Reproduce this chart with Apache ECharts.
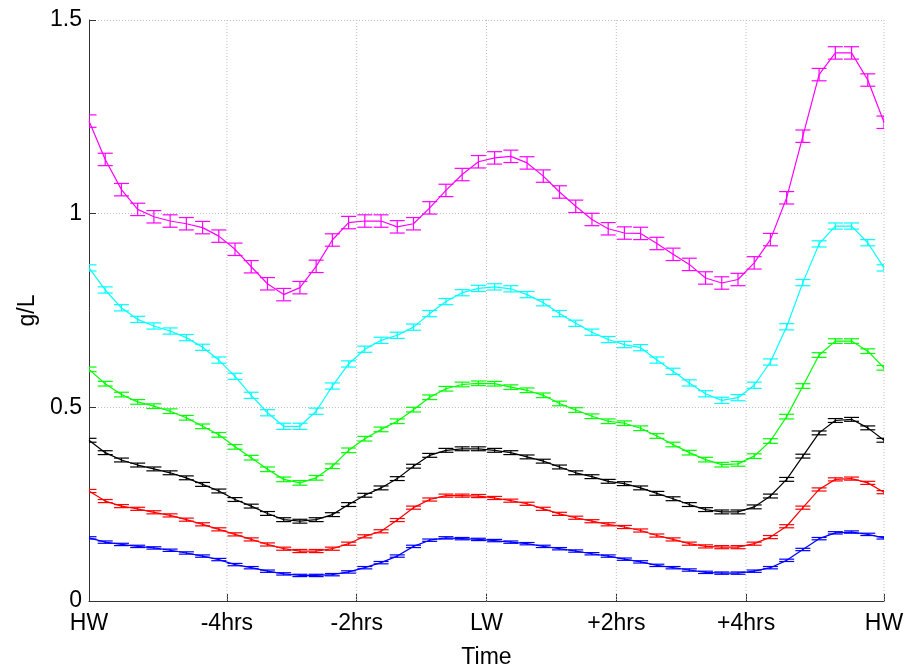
<!DOCTYPE html>
<html>
<head>
<meta charset="utf-8">
<title>Concentration over tidal cycle</title>
<script src="https://cdn.jsdelivr.net/npm/echarts@6/dist/echarts.min.js"></script>
<style>
  html, body { margin: 0; padding: 0; background: #ffffff; }
  #chart { width: 911px; height: 670px; }
</style>
</head>
<body>
<div id="chart"></div>
<script>
// Sampling: every 15 minutes over one tidal cycle, HW to HW (hours relative to LW)
const START_HOURS = -6.125;
const STEP_HOURS = 0.25;
const N_SAMPLES = 50;

// Tick positions (hours) and their labels
const tickHours = [-6.125, -4, -2, 0, 2, 4, 6.125];
const tickLabels = ['HW', '-4hrs', '-2hrs', 'LW', '+2hrs', '+4hrs', 'HW'];

// Mean concentration (g/L) per profile, one value per 15-minute sample
const magentaValues = [1.239, 1.140, 1.062, 1.011, 0.992, 0.981, 0.974, 0.964, 0.942, 0.908,
  0.863, 0.819, 0.791, 0.809, 0.864, 0.932, 0.977, 0.981, 0.981, 0.966,
  0.974, 1.015, 1.060, 1.101, 1.134, 1.144, 1.148, 1.131, 1.097, 1.056,
  1.019, 0.985, 0.961, 0.950, 0.949, 0.923, 0.895, 0.869, 0.834, 0.821,
  0.830, 0.873, 0.933, 1.041, 1.200, 1.359, 1.415, 1.415, 1.345, 1.236];
const cyanValues = [0.860, 0.803, 0.757, 0.727, 0.710, 0.697, 0.680, 0.655, 0.622, 0.580,
  0.531, 0.486, 0.451, 0.451, 0.490, 0.555, 0.612, 0.650, 0.673, 0.686,
  0.707, 0.742, 0.773, 0.796, 0.807, 0.811, 0.806, 0.791, 0.770, 0.742,
  0.717, 0.694, 0.675, 0.662, 0.654, 0.622, 0.593, 0.563, 0.535, 0.518,
  0.525, 0.557, 0.617, 0.708, 0.822, 0.922, 0.968, 0.968, 0.925, 0.860];
const greenValues = [0.598, 0.561, 0.533, 0.514, 0.503, 0.490, 0.473, 0.451, 0.429, 0.398,
  0.370, 0.340, 0.314, 0.305, 0.318, 0.348, 0.389, 0.419, 0.443, 0.464,
  0.494, 0.526, 0.548, 0.559, 0.562, 0.561, 0.552, 0.544, 0.531, 0.510,
  0.493, 0.477, 0.464, 0.459, 0.446, 0.426, 0.404, 0.383, 0.365, 0.352,
  0.354, 0.374, 0.413, 0.476, 0.555, 0.635, 0.671, 0.671, 0.645, 0.602];
const blackValues = [0.415, 0.383, 0.364, 0.351, 0.341, 0.331, 0.318, 0.301, 0.284, 0.262,
  0.245, 0.226, 0.210, 0.206, 0.210, 0.223, 0.249, 0.273, 0.292, 0.316,
  0.348, 0.376, 0.389, 0.393, 0.393, 0.389, 0.383, 0.372, 0.361, 0.346,
  0.331, 0.321, 0.309, 0.303, 0.292, 0.278, 0.264, 0.249, 0.236, 0.230,
  0.230, 0.243, 0.271, 0.314, 0.374, 0.434, 0.466, 0.469, 0.447, 0.415];
const redValues = [0.284, 0.258, 0.245, 0.238, 0.229, 0.221, 0.210, 0.198, 0.185, 0.172,
  0.159, 0.146, 0.135, 0.129, 0.129, 0.135, 0.148, 0.167, 0.180, 0.209,
  0.241, 0.262, 0.272, 0.272, 0.271, 0.266, 0.259, 0.251, 0.238, 0.225,
  0.215, 0.206, 0.198, 0.191, 0.182, 0.169, 0.159, 0.148, 0.141, 0.139,
  0.139, 0.148, 0.165, 0.193, 0.241, 0.288, 0.314, 0.316, 0.305, 0.281];
const blueValues = [0.163, 0.152, 0.146, 0.141, 0.137, 0.131, 0.124, 0.116, 0.107, 0.094,
  0.086, 0.077, 0.070, 0.066, 0.066, 0.068, 0.075, 0.086, 0.099, 0.116,
  0.141, 0.157, 0.163, 0.161, 0.159, 0.156, 0.152, 0.148, 0.141, 0.135,
  0.129, 0.122, 0.116, 0.108, 0.101, 0.092, 0.086, 0.080, 0.074, 0.072,
  0.072, 0.077, 0.086, 0.105, 0.133, 0.161, 0.176, 0.178, 0.172, 0.163];

// Half-width of the error bar for each profile (g/L)
const magentaError = 0.016;
const cyanError = 0.008;
const greenError = 0.006;
const blackError = 0.005;
const redError = 0.004;
const blueError = 0.003;

const profiles = [
  { color: '#ff00ff', values: magentaValues, error: magentaError },
  { color: '#00ffff', values: cyanValues, error: cyanError },
  { color: '#00ff00', values: greenValues, error: greenError },
  { color: '#000000', values: blackValues, error: blackError },
  { color: '#ff0000', values: redValues, error: redError },
  { color: '#0000ff', values: blueValues, error: blueError }
];

const hours = [];
for (let i = 0; i < N_SAMPLES; i++) hours.push(START_HOURS + STEP_HOURS * i);

const FONT = "'Liberation Sans', Arial, Helvetica, sans-serif";
const CAP_HALF = 7.5;

function errorBarRenderer(color) {
  return function (params, api) {
    const x = api.value(0), v = api.value(1), e = api.value(2);
    const lo = api.coord([x, v - e]);
    const hi = api.coord([x, v + e]);
    const style = { stroke: color, lineWidth: 1.2, fill: null };
    return {
      type: 'group',
      children: [
        { type: 'line', shape: { x1: lo[0], y1: lo[1], x2: hi[0], y2: hi[1] }, style },
        { type: 'line', shape: { x1: lo[0] - CAP_HALF, y1: lo[1], x2: lo[0] + CAP_HALF, y2: lo[1] }, style },
        { type: 'line', shape: { x1: hi[0] - CAP_HALF, y1: hi[1], x2: hi[0] + CAP_HALF, y2: hi[1] }, style }
      ]
    };
  };
}

const series = [];

// Vertical dotted grid lines at the time ticks
series.push({
  type: 'custom',
  silent: true,
  z: 1,
  data: tickHours.slice(1),
  renderItem: function (params, api) {
    const x = api.value(0);
    const top = api.coord([x, 1.5]);
    const bottom = api.coord([x, 0]);
    return {
      type: 'line',
      shape: { x1: top[0], y1: top[1], x2: bottom[0], y2: bottom[1] },
      style: { stroke: '#bdbdbd', lineWidth: 1, lineDash: [1, 2] }
    };
  }
});

profiles.forEach(function (p) {
  series.push({
    type: 'line',
    z: 3,
    silent: true,
    showSymbol: false,
    smooth: false,
    data: hours.map(function (h, i) { return [h, p.values[i]]; }),
    lineStyle: { color: p.color, width: 1.2 },
    itemStyle: { color: p.color }
  });
  series.push({
    type: 'custom',
    z: 3,
    silent: true,
    clip: true,
    data: hours.map(function (h, i) { return [h, p.values[i], p.error]; }),
    renderItem: errorBarRenderer(p.color)
  });
});

const chart = echarts.init(document.getElementById('chart'), null, { renderer: 'canvas' });
chart.setOption({
  animation: false,
  backgroundColor: '#ffffff',
  grid: { left: 89, right: 27, top: 20, bottom: 69, containLabel: false, outerBoundsMode: 'none' },
  xAxis: {
    type: 'value',
    min: START_HOURS,
    max: -START_HOURS,
    name: 'Time',
    nameLocation: 'middle',
    nameGap: 45,
    nameTextStyle: { fontFamily: FONT, fontSize: 23, color: '#000' },
    axisLine: { show: true, onZero: false, lineStyle: { color: '#333', width: 1 } },
    axisTick: { show: true, inside: true, length: 7, customValues: tickHours, lineStyle: { color: '#333' } },
    axisLabel: {
      show: true,
      customValues: tickHours,
      margin: 11,
      fontFamily: FONT,
      fontSize: 23,
      color: '#000',
      formatter: function (v) {
        const k = tickHours.findIndex(function (t) { return Math.abs(t - v) < 1e-6; });
        return k >= 0 ? tickLabels[k] : '';
      }
    },
    splitLine: { show: false }
  },
  yAxis: {
    type: 'value',
    min: 0,
    max: 1.5,
    interval: 0.5,
    name: 'g/L',
    nameLocation: 'middle',
    nameGap: 42,
    nameRotate: 90,
    nameTextStyle: { fontFamily: FONT, fontSize: 23, color: '#000' },
    axisLine: { show: true, onZero: false, lineStyle: { color: '#333', width: 1 } },
    axisTick: { show: true, inside: true, length: 7, lineStyle: { color: '#333' } },
    axisLabel: { margin: 7, fontFamily: FONT, fontSize: 23, color: '#000' },
    splitLine: { show: true, lineStyle: { color: '#bdbdbd', width: 1, type: [1, 2] } }
  },
  series: series
});
</script>
</body>
</html>
